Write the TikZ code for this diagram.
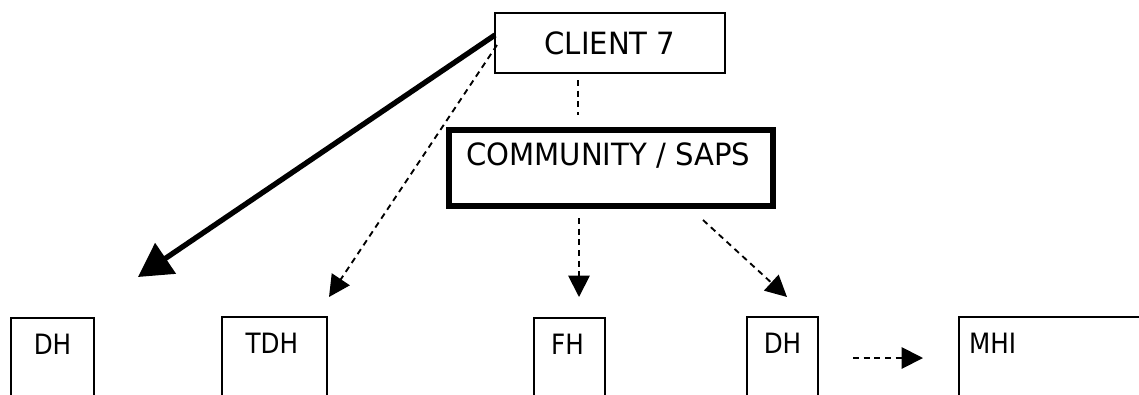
\documentclass[tikz,border=0pt]{standalone}
\usepackage{fontspec}
\setmainfont{DejaVu Sans}
\newfontfamily\topface[FakeStretch=0.95]{DejaVu Sans}
\newfontfamily\botface[FakeStretch=0.88]{DejaVu Sans}
\usetikzlibrary{arrows.meta}
\begin{document}
\begin{tikzpicture}[x=0.75pt,y=-0.75pt,
  box/.style={draw, rectangle, line width=1.2pt, inner sep=0pt},
  topfont/.style={font=\topface\fontsize{23}{26}\selectfont},
  botfont/.style={font=\botface\fontsize{21}{24}\selectfont},
  botbox/.style={box, minimum height=91.5pt, line width=1.4pt},
  toplbl/.style={anchor=north, inner sep=0pt, yshift=-12.5pt, botfont},
  dasharrow/.style={line width=1.4pt, dash pattern=on 4.5pt off 3.5pt,
    -{Triangle[length=16pt,width=16pt]}},
  thickarrow/.style={line width=4pt, -{Triangle[length=25pt,width=27pt]}}]
\useasboundingbox (0,0) rectangle (1139,394);
\clip (0,0) rectangle (1139,394);

% nodes
\node[box, minimum width=172.5pt, minimum height=45pt, topfont] (client) at (610,43) {CLIENT 7};
\node[box, line width=4pt, minimum width=243pt, minimum height=57pt,
  label={[anchor=north, inner sep=0pt, yshift=-11pt, xshift=-2pt, topfont]north:COMMUNITY / SAPS}] (comm) at (611,168) {};

\node[botbox, minimum width=62.25pt, label={[toplbl]north:DH}] (dh1) at (52.5,379) {};
\node[botbox, minimum width=78.75pt, label={[toplbl, xshift=-2pt]north:TDH}] (tdh) at (274.5,378) {};
\node[botbox, minimum width=53.25pt, label={[toplbl, xshift=-1.5pt]north:FH}] (fh) at (569.5,379) {};
\node[botbox, minimum width=53.25pt, label={[toplbl]north:DH}] (dh2) at (782.5,378) {};
\node[botbox, minimum width=165.75pt, label={[toplbl, anchor=north west, xshift=8pt]north west:MHI}] (mhi) at (1069.5,378) {};

% connector end points
\coordinate (c1) at (495,35);
\coordinate (c2) at (497,45);
\coordinate (t1) at (138,277);
\coordinate (t2) at (329,297);
\coordinate (cc1) at (578,80);
\coordinate (cc2) at (578,115);
\coordinate (f1) at (579,218);
\coordinate (f2) at (579,297);
\coordinate (d1) at (703,220);
\coordinate (d2) at (787,297);
\coordinate (m1) at (853,358);
\coordinate (m2) at (923,358);

% connectors
\draw[thickarrow] (c1) -- (t1);
\draw[dasharrow] (c2) -- (t2);
\draw[line width=1.4pt, dash pattern=on 4.5pt off 3.5pt] (cc1) -- (cc2);
\draw[dasharrow] (f1) -- (f2);
\draw[dasharrow] (d1) -- (d2);
\draw[dasharrow] (m1) -- (m2);
\end{tikzpicture}
\end{document}
